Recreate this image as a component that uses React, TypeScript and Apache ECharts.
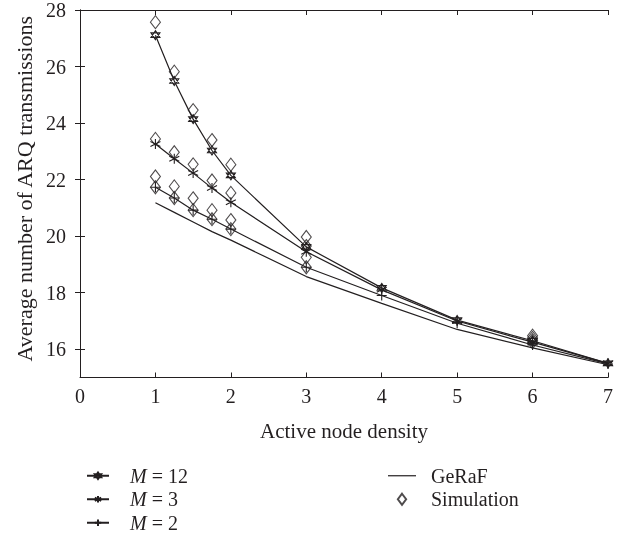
import React, { useEffect, useRef } from "react";
import * as echarts from "echarts";

const xs = [1, 1.25, 1.5, 1.75, 2, 3, 4, 5, 6, 7];
const m12 = [27.11, 25.49, 24.14, 23.03, 22.15, 19.62, 18.17, 17.03, 16.3, 15.5];
const m3 = [23.26, 22.74, 22.23, 21.7, 21.2, 19.45, 18.1, 17.0, 16.25, 15.5];
const m2 = [21.73, 21.35, 20.92, 20.6, 20.25, 18.9, 17.9, 16.92, 16.15, 15.48];
const geraf = [21.18, 20.84, 20.5, 20.16, 19.86, 18.57, 17.62, 16.7, 16.05, 15.45];

const simXs = [1, 1.25, 1.5, 1.75, 2, 3, 6];
const sim12 = [27.57, 25.82, 24.46, 23.4, 22.53, 19.97, 16.48];
const sim3 = [23.44, 22.97, 22.54, 21.97, 21.53, 19.65, 16.4];
const simA = [22.11, 21.76, 21.34, 20.92, 20.57, 19.25, 16.32];
const simB = [21.73, 21.35, 20.92, 20.6, 20.25, 18.9, 16.25];

const yTicks = [16, 18, 20, 22, 24, 26, 28];

const INK = "#231f20";
const FONT = "Liberation Serif";

const HEX = "path://M0,-6L5.2,3L-5.2,3ZM0,6L5.2,-3L-5.2,-3Z";
const AST = "path://M0,-6L0,6M-5.2,-3L5.2,3M-5.2,3L5.2,-3";
const PLUS = "path://M0,-6L0,6M-6,0L6,0";
const DIAMOND_ICON = "path://M0,-6L4.5,0L0,6L-4.5,0Z";
const LINE_ICON = "path://M0,0L28,0L28,1.2L0,1.2Z";

const pairs = (x: number[], y: number[]) => x.map((v, i) => [v, y[i]]);

export default function App() {
  const ref = useRef<HTMLDivElement>(null);
  useEffect(() => {
    if (!ref.current) return;
    const chart = echarts.init(ref.current, undefined, { renderer: "svg" });
    const lineSeries = (name: string, data: number[], symbol: string, size: number) => ({
      name,
      type: "line",
      data: pairs(xs, data),
      symbol,
      symbolSize: size,
      showSymbol: true,
      lineStyle: { color: INK, width: 1.2 },
      itemStyle: { color: "#fff", borderColor: INK, borderWidth: 1.1 },
      z: 3,
    });
    const simData = [
      ...pairs(simXs, sim12),
      ...pairs(simXs, sim3),
      ...pairs(simXs, simA),
      ...pairs(simXs, simB),
    ];
    const axisCommon = {
      axisLine: { show: true, lineStyle: { color: INK, width: 1 } },
      axisTick: { show: true, inside: true, length: 5, lineStyle: { color: INK } },
      splitLine: { show: false },
    };
    const legendText = {
      color: INK,
      fontFamily: FONT,
      fontSize: 20,
      lineHeight: 23.5,
    };
    chart.setOption({
      animation: false,
      grid: { left: 80, right: 16, top: 8, bottom: 157.5 },
      xAxis: [
        {
          type: "value",
          min: 0,
          max: 7,
          interval: 1,
          ...axisCommon,
          axisLabel: { color: INK, fontFamily: FONT, fontSize: 20, margin: 8 },
          name: "Active node density",
          nameLocation: "middle",
          nameGap: 43,
          nameTextStyle: { color: INK, fontFamily: FONT, fontSize: 21 },
        },
        {
          type: "value",
          position: "top",
          min: 0,
          max: 7,
          interval: 1,
          ...axisCommon,
          axisLabel: { show: false },
        },
      ],
      yAxis: [
        {
          type: "value",
          min: 15,
          max: 28,
          ...axisCommon,
          axisTick: { ...axisCommon.axisTick, customValues: yTicks },
          axisLabel: { color: INK, fontFamily: FONT, fontSize: 20, margin: 14, customValues: yTicks },
          name: "Average number of ARQ transmissions",
          nameLocation: "middle",
          nameGap: 45,
          nameTextStyle: { color: INK, fontFamily: FONT, fontSize: 22, padding: [0, 0, 0, 10] },
        },
        {
          type: "value",
          position: "right",
          min: 15,
          max: 28,
          ...axisCommon,
          axisTick: { ...axisCommon.axisTick, customValues: yTicks },
          axisLabel: { show: false, customValues: yTicks },
        },
      ],
      legend: [
        {
          orient: "vertical",
          left: 86,
          top: 464,
          height: 120,
          padding: 0,
          itemWidth: 22,
          itemHeight: 8,
          itemGap: 0,
          data: ["M = 12", "M = 3", "M = 2"],
          formatter: (name: string) => `{i|M}{r|${name.slice(1)}}`,
          textStyle: {
            ...legendText,
            padding: [0, 0, 0, 16],
            rich: {
              i: { ...legendText, fontStyle: "italic" },
              r: { ...legendText },
            },
          },
        },
        {
          orient: "vertical",
          left: 388,
          top: 464,
          height: 120,
          padding: 0,
          itemWidth: 28,
          itemHeight: 11,
          itemGap: 0,
          data: [
            { name: "GeRaF", icon: LINE_ICON },
            { name: "Simulation", icon: DIAMOND_ICON },
          ],
          textStyle: { ...legendText, padding: [0, 0, 0, 10] },
        },
      ],
      series: [
        lineSeries("M = 12", m12, HEX, 9),
        lineSeries("M = 3", m3, AST, 10),
        lineSeries("M = 2", m2, PLUS, 10),
        {
          name: "GeRaF",
          type: "line",
          data: pairs(xs, geraf),
          symbol: "none",
          lineStyle: { color: INK, width: 1.2 },
          itemStyle: { color: INK },
        },
        {
          name: "Simulation",
          type: "scatter",
          data: simData,
          symbol: "diamond",
          symbolSize: [10, 13],
          itemStyle: { color: "rgba(255,255,255,0)", borderColor: INK, borderWidth: 1.1 },
          z: 4,
        },
      ],
    });
    return () => chart.dispose();
  }, []);
  return (
    <div
      ref={ref}
      style={{ position: "fixed", left: 0, top: 0, width: 624, height: 535 }}
    />
  );
}
